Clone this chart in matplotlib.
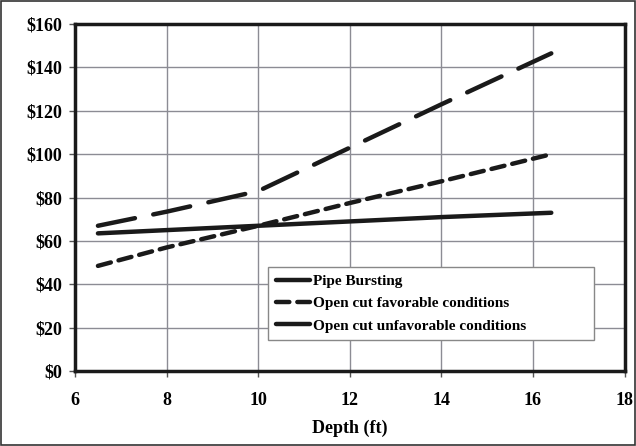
import matplotlib
matplotlib.use('Agg')
import matplotlib.pyplot as plt
from matplotlib.patches import Rectangle
from matplotlib.ticker import FuncFormatter

DEPTH = [6.5, 8, 10, 12, 14, 16.4]
PIPE_BURSTING = [63.5, 65, 67, 69, 71, 73]
OPEN_CUT_FAVORABLE = [48.5, 57, 67, 77.5, 87.5, 100]
OPEN_CUT_UNFAVORABLE = [67, 73.5, 83, 103, 123, 146.5]

X_TICKS = [6, 8, 10, 12, 14, 16, 18]
Y_TICKS = [0, 20, 40, 60, 80, 100, 120, 140, 160]

plt.rcParams['font.family'] = ['Liberation Serif', 'DejaVu Serif']
plt.rcParams['font.weight'] = 'bold'

fig = plt.figure(figsize=(6.36, 4.46), dpi=100)
ax = fig.add_axes([0.118, 0.168, 0.864, 0.778])

ax.plot(DEPTH, PIPE_BURSTING, color='#1a1a1a', lw=3.2,
        solid_capstyle='round', label='Pipe Bursting')
ax.plot(DEPTH, OPEN_CUT_FAVORABLE, color='#1a1a1a', lw=3.2,
        dashes=(3.0, 1.8), dash_capstyle='round',
        label='Open cut favorable conditions')
ax.plot(DEPTH, OPEN_CUT_UNFAVORABLE, color='#1a1a1a', lw=3.2,
        dashes=(8.5, 4.2), dash_capstyle='round',
        label='Open cut unfavorable conditions')

ax.set_xlim(6, 18)
ax.set_ylim(0, 160)
ax.set_xticks(X_TICKS)
ax.set_yticks(Y_TICKS)
ax.yaxis.set_major_formatter(FuncFormatter(lambda v, p: '${:.0f}'.format(v)))
ax.grid(True, color='#8c8c94', lw=1.0)
ax.set_axisbelow(True)
for s in ax.spines.values():
    s.set_linewidth(2.5)
    s.set_color('#1a1a1a')
ax.tick_params(axis='both', labelsize=13, length=4, width=1, color='#555555')
ax.tick_params(axis='x', pad=11)
ax.tick_params(axis='y', pad=5)
ax.set_xlabel('Depth (ft)', fontsize=13, fontweight='bold', labelpad=8)

leg = ax.legend(loc='lower left', bbox_to_anchor=(0.352, 0.089, 0.592, 0.225),
                mode='expand', fontsize=11, frameon=True, fancybox=False,
                edgecolor='#888888', framealpha=1, handlelength=2.2,
                borderpad=0.5, labelspacing=0.55, handletextpad=0.2,
                borderaxespad=0)
leg.get_frame().set_linewidth(1.0)

fig.patches.append(Rectangle((0.002, 0.002), 0.996, 0.996, transform=fig.transFigure,
                             fill=False, edgecolor='#333333', lw=1.2))

fig.savefig('out.png', dpi=100)
